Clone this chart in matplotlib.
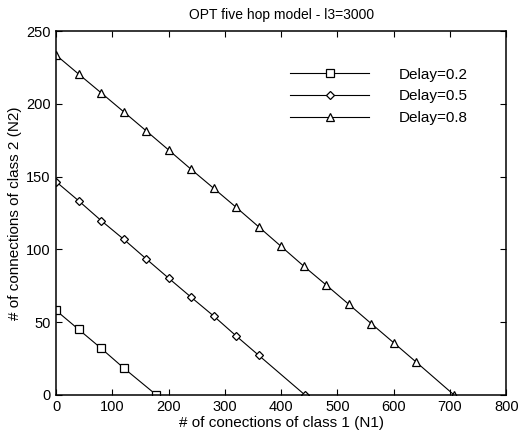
import numpy as np
import matplotlib.pyplot as plt

plt.rcParams['font.family'] = ['Liberation Sans', 'DejaVu Sans']

# N1 / N2 values
n1_d02 = [0, 40, 80, 120, 178]
n2_d02 = [58, 45, 32, 18.5, 0]

n1_d05 = [0, 40, 80, 120, 160, 200, 240, 280, 320, 360, 442]
n2_d05 = [146.5, 133.4, 119.8, 107, 93.5, 80.2, 67.1, 54.2, 40.5, 27.2, 0]

n1_d08 = [0, 40, 80, 120, 160, 200, 240, 280, 320, 360, 400, 440, 480, 520, 560, 600, 640, 707]
n2_d08 = [233.5, 220.5, 207.6, 194.6, 181.5, 168.3, 155, 142, 128.9, 115.5, 102, 88.5, 75.5, 62.3, 49, 35.8, 22.5, 0]

labels = ['Delay=0.2', 'Delay=0.5', 'Delay=0.8']

fig = plt.figure(figsize=(5.29, 4.32), dpi=100)
ax = fig.add_axes([0.106, 0.086, 0.851, 0.842])

ax.plot(n1_d02, n2_d02, 'k-', lw=0.8, marker='s', ms=5.5, mfc='white', mec='k', mew=0.9, label=labels[0])
ax.plot(n1_d05, n2_d05, 'k-', lw=0.8, marker='D', ms=3.8, mfc='white', mec='k', mew=0.9, label=labels[1])
ax.plot(n1_d08, n2_d08, 'k-', lw=0.8, marker='^', ms=6, mfc='white', mec='k', mew=0.9, label=labels[2])

ax.set_xlim(0, 800)
ax.set_ylim(0, 250)
ax.set_xticks(np.arange(0, 801, 100))
ax.set_yticks(np.arange(0, 251, 50))
ax.tick_params(direction='in', top=True, right=True, labelsize=10.5, length=4, width=0.8, pad=4)
for s in ax.spines.values():
    s.set_linewidth(1.1)

ax.set_title('OPT five hop model - l3=3000', fontsize=10, pad=9)
ax.set_xlabel('# of conections of class 1 (N1)', fontsize=11, labelpad=1)
ax.set_ylabel('# of connections of class 2 (N2)', fontsize=11, labelpad=3)

ax.legend(loc='upper left', bbox_to_anchor=(0.548, 0.843), bbox_transform=fig.transFigure,
          frameon=False, fontsize=11, handlelength=5.2, handletextpad=1.9,
          labelspacing=0.5, borderpad=0, borderaxespad=0)

fig.savefig('out.png', dpi=100)
